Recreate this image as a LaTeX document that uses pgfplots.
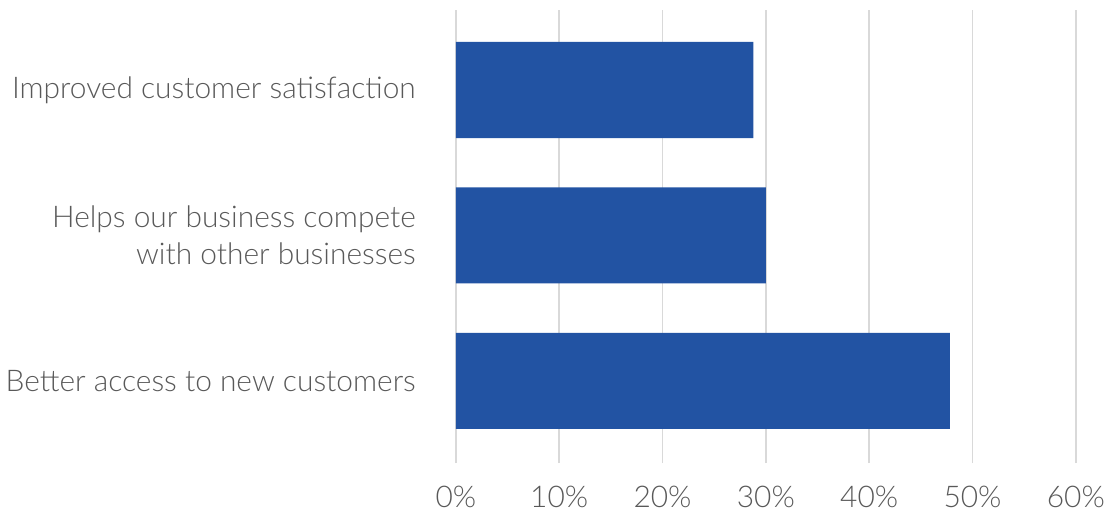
\documentclass[border=0pt]{standalone}
\usepackage{fontspec}
\setmainfont{Lato}[UprightFont=* Light]
\usepackage{pgfplots}
\pgfplotsset{compat=1.18}
\definecolor{barblue}{RGB}{34,83,163}
\definecolor{labelgray}{RGB}{89,89,89}
\definecolor{gridgray}{RGB}{217,217,217}
\begin{document}
\begin{tikzpicture}
\begin{axis}[
  scale only axis,
  width=620bp, height=453bp,
  xbar, bar width=0.66, bar shift=0pt,
  xmin=0, xmax=60,
  ymin=-0.564, ymax=2.55,
  xtick={0,10,20,30,40,50,60},
  xticklabels={0\%,10\%,20\%,30\%,40\%,50\%,60\%},
  ytick={0,1,2},
  yticklabels={Better access to new customers,{Helps our business compete\\with other businesses},Improved customer satisfaction},
  axis line style={draw=none},
  major tick length=0pt,
  xmajorgrids=true,
  grid style={gridgray, line width=1.5bp},
  ticklabel style={font=\fontsize{30}{37}\selectfont, text=labelgray, inner sep=0pt},
  yticklabel style={anchor=east, align=right, xshift=-40bp},
  xticklabel style={anchor=center, yshift=-34bp},
]
\addplot[fill=barblue, draw=none] coordinates {(47.8,0) (30.0,1) (28.8,2)};
\end{axis}
\pgfresetboundingbox
\path (-455.9bp,-47bp) rectangle (650.1bp,463bp);
\end{tikzpicture}
\end{document}
